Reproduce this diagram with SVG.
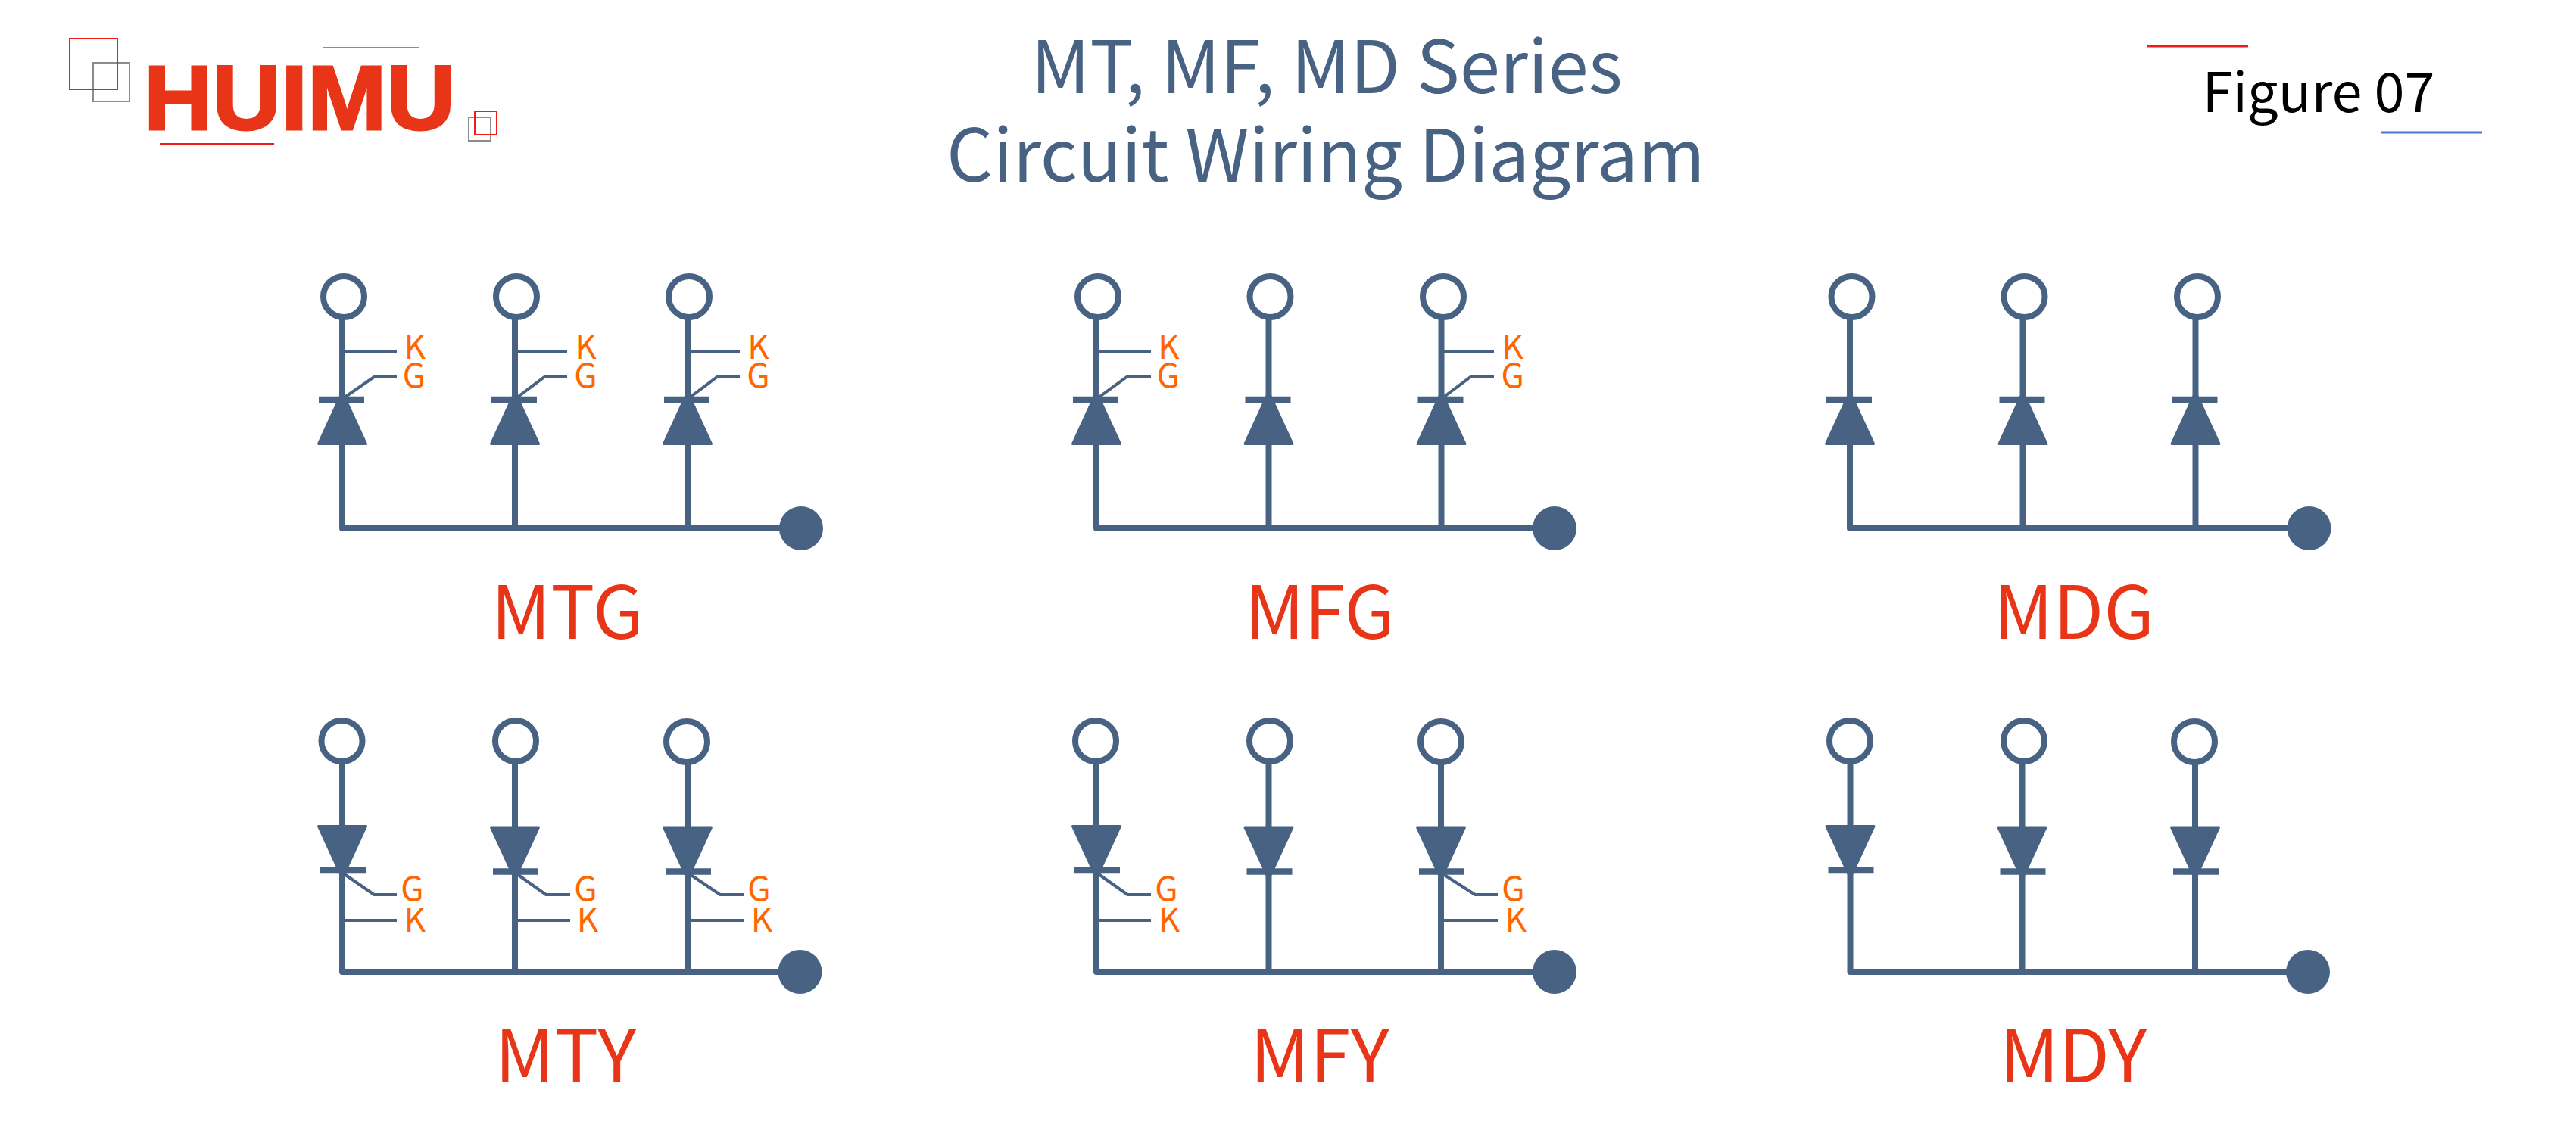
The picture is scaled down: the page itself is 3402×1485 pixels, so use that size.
<svg xmlns="http://www.w3.org/2000/svg" xmlns:xlink="http://www.w3.org/1999/xlink" width="3402" height="1485" viewBox="0 0 3402 1485">
<style>
.cjk{font-family:"Noto Sans CJK SC","Noto Sans",sans-serif}
.title{font-size:96px;fill:#476282;text-anchor:middle}
.label{font-size:97px;fill:#e83517;text-anchor:middle}
.pin{font-size:44px;fill:#ff6600;text-anchor:middle}
.wire{fill:none;stroke:#476282;stroke-width:8;stroke-linejoin:round;stroke-linecap:butt}
.lead{fill:none;stroke:#476282;stroke-width:4;stroke-linejoin:miter}
.term{fill:#fff;stroke:#476282;stroke-width:8}
.out{fill:#476282}
.dio{fill:#476282;stroke:#476282;stroke-width:3;stroke-linejoin:round}
.bar{fill:#476282}
.sqr{fill:none;stroke:#f51a1a;stroke-width:2}
.sqg{fill:none;stroke:#8c8c8c;stroke-width:2}
</style>
<defs>
<g id="up"><polygon class="dio" points="-31.5,58.5 31.5,58.5 0,-10"/><rect class="bar" x="-31" y="-4.25" width="60" height="8.5"/></g>
<g id="down"><polygon class="dio" points="-31.5,-58.5 31.5,-58.5 0,10"/><rect class="bar" x="-29" y="-4.25" width="60" height="8.5"/></g>
</defs>
<rect width="3402" height="1485" fill="#fff"/>
<g id="logo">
<rect class="sqg" x="123" y="83" width="48" height="51"/>
<rect class="sqr" x="92" y="51" width="63" height="67"/>
<rect class="sqg" x="619" y="155" width="29" height="31"/>
<rect class="sqr" x="627" y="147" width="29" height="31"/>
<line class="sqg" x1="426" y1="63" x2="553" y2="63"/>
<line class="sqr" x1="211" y1="190" x2="362" y2="190"/>
<text x="190" y="171" font-family="Liberation Sans,sans-serif" font-weight="700" font-size="120" fill="#e83517" stroke="#e83517" stroke-width="3" textLength="411" lengthAdjust="spacingAndGlyphs">HUIMU</text>
</g>
<g id="title">
<text class="cjk title" x="1752" y="123">MT, MF, MD Series</text>
<text class="cjk title" x="1751" y="240">Circuit Wiring Diagram</text>
</g>
<g id="figure">
<line x1="2836" y1="61" x2="2969" y2="61" stroke="#f51a1a" stroke-width="3"/>
<line x1="3144" y1="175" x2="3278" y2="175" stroke="#4a78d0" stroke-width="3"/>
<text class="cjk" x="3062" y="148" font-size="72" fill="#000" text-anchor="middle">Figure 07</text>
</g>
<g id="connectors">
<path class="wire" d="M452 420V698H1040M680 420V698M908 420V698"/>
<path class="wire" d="M1448 420V698H2035M1675.5 420V698M1903.5 420V698"/>
<path class="wire" d="M2443 420V698H3030M2671.5 420V698M2899.5 420V698"/>
<path class="wire" d="M452 1007V1284H1040M680 1007V1284M908 1007V1284"/>
<path class="wire" d="M1448 1007V1284H2035M1675.5 1007V1284M1903 1007V1284"/>
<path class="wire" d="M2443.5 1007V1284H3030M2670.5 1007V1284M2899 1007V1284"/>
<path class="lead" d="M452 465H524M455 525L494 498H524M680 465H749M683 525L719 498H749M908 465H977M911 525L947 498H977"/>
<path class="lead" d="M1448 465H1520M1451 525L1488 498H1520M1903.5 465H1973M1906 525L1942 498H1973"/>
<path class="lead" d="M452 1216H524M455 1155L494 1182H524M680 1216H753M683 1155L721 1182H753M908 1216H983M911 1155L951 1182H983"/>
<path class="lead" d="M1448 1216H1520M1451 1155L1489 1182H1520M1903 1216H1978M1906 1155L1948 1182H1978"/>
</g>
<g id="MTG">
<circle class="term" cx="454" cy="392" r="27"/><circle class="term" cx="682" cy="392" r="27"/><circle class="term" cx="910" cy="392" r="27"/>
<use href="#up" x="452" y="528"/><use href="#up" x="680" y="528"/><use href="#up" x="908" y="528"/>
<circle class="out" cx="1058" cy="698" r="29"/>
<text class="cjk pin" x="548" y="474">K</text><text class="cjk pin" x="547" y="512">G</text>
<text class="cjk pin" x="773.5" y="474">K</text><text class="cjk pin" x="773.5" y="512">G</text>
<text class="cjk pin" x="1001.5" y="474">K</text><text class="cjk pin" x="1001.5" y="512">G</text>
<text class="cjk label" x="749" y="844">MTG</text>
</g>
<g id="MFG">
<circle class="term" cx="1450" cy="392" r="27"/><circle class="term" cx="1677.5" cy="392" r="27"/><circle class="term" cx="1906" cy="392" r="27"/>
<use href="#up" x="1448" y="528"/><use href="#up" x="1675.5" y="528"/><use href="#up" x="1903.5" y="528"/>
<circle class="out" cx="2053" cy="698" r="29"/>
<text class="cjk pin" x="1543.5" y="474">K</text><text class="cjk pin" x="1543" y="512">G</text>
<text class="cjk pin" x="1997.7" y="474">K</text><text class="cjk pin" x="1997.7" y="512">G</text>
<text class="cjk label" x="1743" y="844">MFG</text>
</g>
<g id="MDG">
<circle class="term" cx="2445.5" cy="392" r="27"/><circle class="term" cx="2673.5" cy="392" r="27"/><circle class="term" cx="2902" cy="392" r="27"/>
<use href="#up" x="2443" y="528"/><use href="#up" x="2671.5" y="528"/><use href="#up" x="2899.5" y="528"/>
<circle class="out" cx="3049.5" cy="698" r="29"/>
<text class="cjk label" x="2739" y="844">MDG</text>
</g>
<g id="MTY">
<circle class="term" cx="451.5" cy="979" r="27"/><circle class="term" cx="681" cy="979" r="27"/><circle class="term" cx="907" cy="980" r="27"/>
<use href="#down" x="452" y="1150"/><use href="#down" x="680" y="1151.5"/><use href="#down" x="908" y="1151.5"/>
<circle class="out" cx="1056.5" cy="1284" r="29"/>
<text class="cjk pin" x="544.5" y="1190">G</text><text class="cjk pin" x="548" y="1231">K</text>
<text class="cjk pin" x="773.5" y="1190">G</text><text class="cjk pin" x="776" y="1231">K</text>
<text class="cjk pin" x="1002.5" y="1190">G</text><text class="cjk pin" x="1006" y="1231">K</text>
<text class="cjk label" x="747" y="1430">MTY</text>
</g>
<g id="MFY">
<circle class="term" cx="1447" cy="979" r="27"/><circle class="term" cx="1677" cy="979" r="27"/><circle class="term" cx="1903" cy="980" r="27"/>
<use href="#down" x="1448" y="1150"/><use href="#down" x="1675.5" y="1151.5"/><use href="#down" x="1903" y="1151.5"/>
<circle class="out" cx="2053" cy="1284" r="29"/>
<text class="cjk pin" x="1540.5" y="1190">G</text><text class="cjk pin" x="1544" y="1231">K</text>
<text class="cjk pin" x="1998.5" y="1190">G</text><text class="cjk pin" x="2002" y="1231">K</text>
<text class="cjk label" x="1743" y="1430">MFY</text>
</g>
<g id="MDY">
<circle class="term" cx="2443" cy="979" r="27"/><circle class="term" cx="2673" cy="979" r="27"/><circle class="term" cx="2898" cy="980" r="27"/>
<use href="#down" x="2443.5" y="1150"/><use href="#down" x="2670.5" y="1151.5"/><use href="#down" x="2899" y="1151.5"/>
<circle class="out" cx="3048" cy="1284" r="29"/>
<text class="cjk label" x="2738" y="1430">MDY</text>
</g>
</svg>
